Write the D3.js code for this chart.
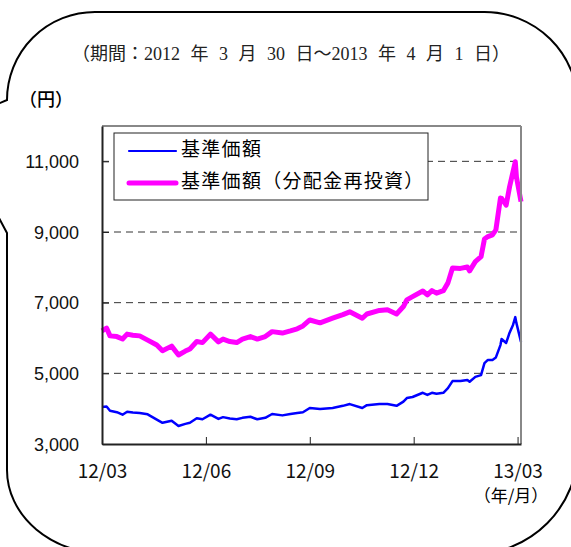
<!DOCTYPE html>
<meta charset="utf-8">
<script src="https://d3js.org/d3.v7.min.js"></script>
<style>
  body { margin: 0; background: #fff; }
</style>
<svg id="chart" width="571" height="547"></svg>
<script>

    // data (date, NAV, NAV with dividends reinvested)
    const dates = [
        "2012-03-30", "2012-04-03", "2012-04-06", "2012-04-12", "2012-04-17", "2012-04-21",
        "2012-04-26", "2012-05-02", "2012-05-09", "2012-05-17", "2012-05-22", "2012-05-30",
        "2012-06-05", "2012-06-11", "2012-06-15", "2012-06-21", "2012-06-26", "2012-07-03",
        "2012-07-10", "2012-07-14", "2012-07-20", "2012-07-26", "2012-07-31", "2012-08-07",
        "2012-08-13", "2012-08-20", "2012-08-26", "2012-09-04", "2012-09-11", "2012-09-17",
        "2012-09-22", "2012-09-28", "2012-10-07", "2012-10-18", "2012-10-27", "2012-11-02",
        "2012-11-13", "2012-11-17", "2012-11-28", "2012-12-05", "2012-12-13", "2012-12-19",
        "2012-12-22", "2012-12-27", "2013-01-05", "2013-01-09", "2013-01-13", "2013-01-17",
        "2013-01-23", "2013-01-27", "2013-01-31", "2013-02-07", "2013-02-13", "2013-02-15",
        "2013-02-20", "2013-02-25", "2013-02-28", "2013-03-03", "2013-03-07", "2013-03-10",
        "2013-03-14", "2013-03-15", "2013-03-19", "2013-03-22", "2013-03-25", "2013-03-27",
        "2013-03-28", "2013-04-01"
    ];
    const navBase = [
        4050, 4060, 3940, 3900, 3830, 3915,
        3890, 3880, 3840, 3690, 3600, 3660,
        3510, 3570, 3600, 3730, 3700, 3830,
        3710, 3760, 3720, 3700, 3740, 3770,
        3700, 3740, 3850, 3810, 3850, 3880,
        3900, 4020, 3990, 4020, 4080, 4130,
        4020, 4100, 4130, 4130, 4080, 4200,
        4300, 4330, 4450, 4390, 4450, 4420,
        4450, 4580, 4780, 4780, 4810, 4760,
        4900, 4950, 5290, 5380, 5380, 5450,
        5800, 5970, 5860, 6150, 6370, 6590,
        6420, 5890
    ];
    const navReinvest = [
        6200, 6280, 6060, 6040, 5970, 6110,
        6080, 6060, 5940, 5800, 5640, 5770,
        5520, 5630, 5690, 5900, 5870, 6110,
        5890, 5970, 5900, 5870, 5970, 6040,
        5970, 6040, 6180, 6140, 6200, 6260,
        6340, 6510, 6430, 6560, 6660, 6740,
        6560, 6680, 6780, 6800, 6680, 6890,
        7080, 7170, 7330, 7220, 7340, 7270,
        7340, 7560, 7980, 7970, 8010, 7900,
        8160, 8300, 8800, 8870, 8920, 9060,
        9960, 9950, 9760, 10280, 10700, 10990,
        10560, 9860
    ];
    const seriesNames = ["基準価額", "基準価額（分配金再投資）"];
    const yTicks = [3000, 5000, 7000, 9000, 11000];
    const xTickDates = ["2012-03-30", "2012-06-29", "2012-09-28", "2012-12-28", "2013-03-29"];
    const xTickLabels = ["12/03", "12/06", "12/09", "12/12", "13/03"];
    const title = "（期間：2012 年 3 月 30 日～2013 年 4 月 1 日）";

    const parse = d3.timeParse("%Y-%m-%d");

    // The svg
    const svg = d3.select("#chart");
    const plotLeft = 102, plotRight = 521, plotTop = 126, plotBottom = 444;

    const x = d3.scaleTime()
        .domain([parse("2012-03-30"), parse("2013-04-01")])
        .range([plotLeft, plotRight]);
    const y = d3.scaleLinear()
        .domain([3000, 12000])
        .range([plotBottom, plotTop]);

    // speech bubble round everything
    svg.append("path")
        .attr("d", "M95,12 L484,12 A93.5,93.5 0 0 1 578,105 L578,449 A105,105 0 0 1 473,554 " +
            "L107,554 A100,84 0 0 1 7,470 L7,233 L-51,125 L7,100 A88,88 0 0 1 95,12 Z")
        .attr("fill", "none")
        .attr("stroke", "#000")
        .attr("stroke-width", 2);

    // title
    svg.append("text")
        .attr("x", 291)
        .attr("y", 56)
        .attr("text-anchor", "middle")
        .attr("dominant-baseline", "middle")
        .attr("fill", "#222")
        .style("font-family", "'Liberation Serif', 'Noto Sans CJK JP', serif")
        .style("font-size", "18px")
        .style("word-spacing", "6px")
        .text(title);

    // unit
    svg.append("text")
        .attr("x", 19)
        .attr("y", 101)
        .attr("dominant-baseline", "middle")
        .style("font-family", "'Noto Sans CJK JP', sans-serif")
        .style("font-size", "18px")
        .style("font-weight", 500)
        .text("（円）");

    // grid lines
    svg.append("g")
        .selectAll("line")
        .data(yTicks.filter(d => d > 3000))
        .enter()
        .append("line")
        .attr("x1", plotLeft)
        .attr("x2", plotRight)
        .attr("y1", d => y(d))
        .attr("y2", d => y(d))
        .attr("stroke", "#333")
        .attr("stroke-width", 1)
        .attr("stroke-dasharray", "7,5");

    // the two lines
    const rows = dates.map((d, i) => ({ date: parse(d), base: navBase[i], reinv: navReinvest[i] }));

    svg.append("path")
        .datum(rows)
        .attr("fill", "none")
        .attr("stroke", "#ff00ff")
        .attr("stroke-width", 5)
        .attr("stroke-linejoin", "round")
        .attr("d", d3.line().x(d => x(d.date)).y(d => y(d.reinv)));

    svg.append("path")
        .datum(rows)
        .attr("fill", "none")
        .attr("stroke", "#0000ff")
        .attr("stroke-width", 2.5)
        .attr("stroke-linejoin", "round")
        .attr("d", d3.line().x(d => x(d.date)).y(d => y(d.base)));

    // frame: top and right grey, left and bottom dark
    svg.append("line")
        .attr("x1", plotLeft).attr("x2", plotRight).attr("y1", plotTop).attr("y2", plotTop)
        .attr("stroke", "#888").attr("stroke-width", 2);
    svg.append("line")
        .attr("x1", plotRight).attr("x2", plotRight).attr("y1", plotTop).attr("y2", plotBottom)
        .attr("stroke", "#888").attr("stroke-width", 2);

    // y axis
    const yAxis = svg.append("g")
        .attr("transform", `translate(${plotLeft},0)`)
        .call(d3.axisLeft(y).tickValues(yTicks).tickSizeInner(-7).tickSizeOuter(0)
            .tickFormat(d3.format(",")));
    yAxis.select(".domain").attr("stroke", "#222").attr("stroke-width", 2);
    yAxis.selectAll(".tick line").attr("stroke", "#222");
    yAxis.selectAll(".tick text")
        .attr("x", -23)
        .attr("dy", "0.35em")
        .attr("fill", "#111")
        .style("font-family", "'Liberation Sans', Arial, sans-serif")
        .style("font-size", "18px");

    // x axis
    const xAxis = svg.append("g")
        .attr("transform", `translate(0,${plotBottom})`)
        .call(d3.axisBottom(x).tickValues(xTickDates.map(parse)).tickSizeInner(-7).tickSizeOuter(0)
            .tickFormat((d, i) => xTickLabels[i]));
    xAxis.select(".domain").attr("stroke", "#222").attr("stroke-width", 2);
    xAxis.selectAll(".tick line").attr("stroke", "#222");
    xAxis.selectAll(".tick text")
        .attr("y", 21)
        .attr("dy", "0.71em")
        .attr("fill", "#111")
        .style("font-family", "'Noto Sans CJK JP', sans-serif")
        .style("font-size", "19px");

    svg.append("text")
        .attr("x", 511)
        .attr("y", 497)
        .attr("text-anchor", "middle")
        .attr("dominant-baseline", "middle")
        .style("font-family", "'Noto Sans CJK JP', sans-serif")
        .style("font-size", "17px")
        .text("（年/月）");

    // legend
    const legend = svg.append("g");
    legend.append("rect")
        .attr("x", 114).attr("y", 133)
        .attr("width", 314).attr("height", 67)
        .attr("fill", "#fff")
        .attr("stroke", "#222")
        .attr("stroke-width", 1);

    const legendItems = [
        { name: seriesNames[0], color: "#0000ff", width: 2.2, y: 151 },
        { name: seriesNames[1], color: "#ff00ff", width: 5, y: 183 }
    ];
    legendItems.forEach(item => {
        legend.append("line")
            .attr("x1", 129).attr("x2", 176)
            .attr("y1", item.y).attr("y2", item.y)
            .attr("stroke", item.color)
            .attr("stroke-width", item.width)
            .attr("stroke-linecap", "round");
        legend.append("text")
            .attr("x", 181)
            .attr("y", item.y)
            .attr("dominant-baseline", "middle")
            .style("font-family", "'Noto Sans CJK JP', sans-serif")
            .style("font-size", "19px")
            .style("letter-spacing", "1.3px")
            .text(item.name);
    });

</script>
